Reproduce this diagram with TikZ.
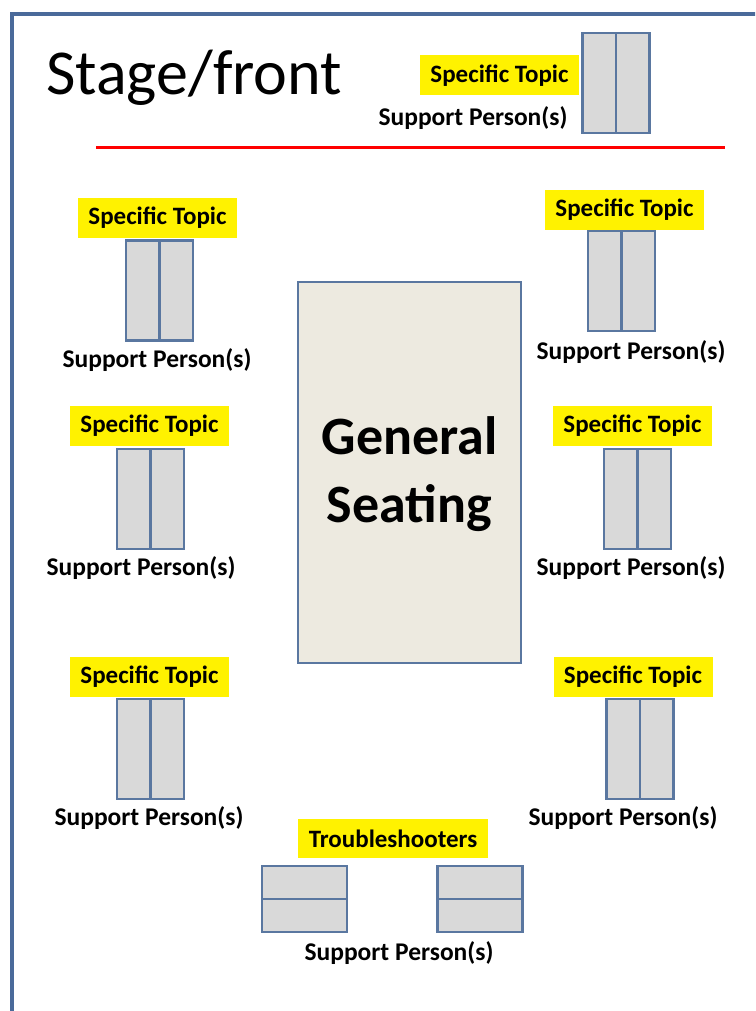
\documentclass[tikz,border=0pt]{standalone}
\usepackage{fontspec}
\setmainfont{Carlito}
\begin{document}
\begin{tikzpicture}[x=1pt,y=-1pt,
  tabline/.style={draw=tabblue,fill=tabgray,line width=2.2pt},
  topic/.style={fill=yellow,minimum width=159pt,minimum height=40pt,inner sep=0pt,font=\fontsize{25}{28}\selectfont\bfseries},
  support/.style={inner sep=0pt,font=\fontsize{25.5}{28}\selectfont\bfseries},
  vtab/.pic={\draw[tabline] (-33.5,-50) rectangle (0,50); \draw[tabline] (0,-50) rectangle (33.5,50);},
  htab/.pic={\draw[tabline] (-42.5,-33) rectangle (42.5,0); \draw[tabline] (-42.5,0) rectangle (42.5,33);}
]
\definecolor{tabblue}{HTML}{5A77A0}
\definecolor{tabgray}{HTML}{D9D9D9}
\definecolor{frameblue}{HTML}{4A6A9A}
\definecolor{seatfill}{HTML}{EDEAE0}
\useasboundingbox (0,0) rectangle (755,1011);
\begin{scope}
\clip (0,0) rectangle (755,1011);
\draw[frameblue,line width=4.5pt] (12,1020) -- (12,14) -- (770,14);
\end{scope}
% title
\node[anchor=base west,inner sep=0pt,font=\fontsize{64}{70}\selectfont] (title) at (46,95) {Stage/front};
\draw[red,line width=3pt] (96,148) -- (725,148);
% top table
\pic at (616,83) {vtab};
\node[topic] (t0) at (499.5,75.5) {Specific Topic};
\node[support] (s0) at (473,118) {Support Person(s)};
% left column
\pic at (159.5,290.5) {vtab};
\node[topic] (tl1) at (157.5,218) {Specific Topic};
\node[support] (sl1) at (157,360) {Support Person(s)};
\pic at (150.5,499) {vtab};
\node[topic] (tl2) at (149.5,426) {Specific Topic};
\node[support] (sl2) at (141,568) {Support Person(s)};
\pic at (150.5,749) {vtab};
\node[topic] (tl3) at (149.5,677) {Specific Topic};
\node[support] (sl3) at (149,818) {Support Person(s)};
% right column
\pic at (621.5,281) {vtab};
\node[topic] (tr1) at (624.5,210) {Specific Topic};
\node[support] (sr1) at (631,352) {Support Person(s)};
\pic at (637.5,499) {vtab};
\node[topic] (tr2) at (632.5,426) {Specific Topic};
\node[support] (sr2) at (631,568) {Support Person(s)};
\pic at (640,749) {vtab};
\node[topic] (tr3) at (633,677) {Specific Topic};
\node[support] (sr3) at (623,818) {Support Person(s)};
% general seating
\draw[draw=tabblue,fill=seatfill,line width=1.6pt] (298,282) rectangle (521,663);
\node[inner sep=0pt,align=center,font=\fontsize{54}{68}\selectfont\bfseries] (gs) at (409.5,474) {General\\Seating};
% troubleshooters
\node[topic,minimum width=190pt,minimum height=39pt] (tt) at (393,838.5) {Troubleshooters};
\pic at (304.5,899) {htab};
\pic at (480,899) {htab};
\node[support] (sb) at (399,953) {Support Person(s)};
\end{tikzpicture}
\end{document}
